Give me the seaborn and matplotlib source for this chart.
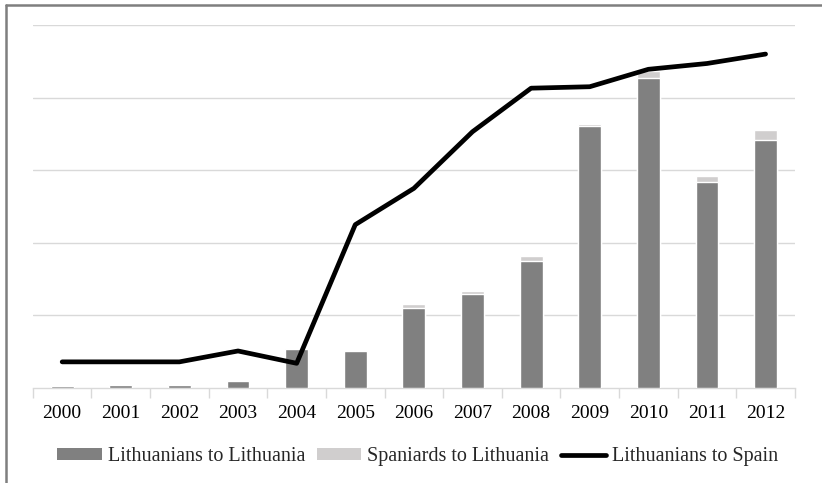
import matplotlib
matplotlib.use('Agg')
import matplotlib.pyplot as plt
from matplotlib.lines import Line2D
from matplotlib.patches import Patch
import seaborn as sns
import pandas as pd
import numpy as np

# Data (arbitrary units, gridline step = 1)
years = ['2000', '2001', '2002', '2003', '2004', '2005', '2006',
         '2007', '2008', '2009', '2010', '2011', '2012']
lt_to_lt = [0.03, 0.045, 0.045, 0.10, 0.54, 0.51, 1.10, 1.29, 1.75, 3.61, 4.27, 2.84, 3.42]
es_to_lt = [0.00, 0.00, 0.00, 0.00, 0.00, 0.00, 0.06, 0.05, 0.07, 0.02, 0.09, 0.08, 0.13]
lt_to_es = [0.36, 0.36, 0.36, 0.51, 0.34, 2.25, 2.75, 3.53, 4.13, 4.15, 4.39, 4.47, 4.60]

df = pd.DataFrame({'year': years, 'lt_lt': lt_to_lt, 'es_lt': es_to_lt, 'lt_es': lt_to_es})
df['total'] = df['lt_lt'] + df['es_lt']

sns.set_theme(style='white')
plt.rcParams['font.family'] = ['Liberation Serif', 'DejaVu Serif']

dark = '#808080'
light = '#d0cece'
grid_c = '#d9d9d9'

fig = plt.figure(figsize=(8.22, 4.83), dpi=100)
ax = fig.add_axes([0.040, 0.1967, 0.927, 0.7515])

# stacked bars: draw total first (light), then dark on top
sns.barplot(data=df, x='year', y='total', color=light, width=0.39,
            saturation=1, ax=ax, zorder=2)
sns.barplot(data=df, x='year', y='lt_lt', color=dark, width=0.39,
            saturation=1, ax=ax, zorder=3)
sns.lineplot(x=np.arange(len(years)), y=df['lt_es'], color='black',
             linewidth=3.4, ax=ax, zorder=4)

ax.set_xlim(-0.5, len(years) - 0.5)
ax.set_ylim(0, 5)
ax.set_yticks([1, 2, 3, 4, 5])
ax.yaxis.grid(True, color=grid_c, linewidth=1.0, zorder=0)
ax.set_axisbelow(True)
ax.tick_params(axis='y', left=False, labelleft=False)
ax.set_xlabel('')
ax.set_ylabel('')
for s in ['top', 'right', 'left']:
    ax.spines[s].set_visible(False)
ax.spines['bottom'].set_color(grid_c)
ax.spines['bottom'].set_linewidth(1.0)

ax.set_xticks(np.arange(len(years)))
ax.set_xticklabels(years, fontsize=14)
ax.set_xticks(np.arange(-0.5, len(years)), minor=True)
ax.tick_params(axis='x', which='major', length=0, pad=12, colors='black')
ax.tick_params(axis='x', which='minor', length=7, width=1.0, color=grid_c, bottom=True)

handles = [Patch(facecolor=dark, edgecolor='none'),
           Patch(facecolor=light, edgecolor='none'),
           Line2D([0], [0], color='black', linewidth=3.4)]
labels = ['Lithuanians to Lithuania', 'Spaniards to Lithuania', 'Lithuanians to Spain']
fig.legend(handles, labels, loc='center', bbox_to_anchor=(0.508, 0.054), ncol=3,
           frameon=False, fontsize=14.5, handlelength=2.2, handleheight=0.55,
           columnspacing=0.6, handletextpad=0.3)

# outer frame (top and left edges visible)
fig.add_artist(Line2D([6 / 822, 1.0], [1 - 5 / 483, 1 - 5 / 483],
                      transform=fig.transFigure, color='#7f7f7f', linewidth=1.8))
fig.add_artist(Line2D([6 / 822, 6 / 822], [0.0, 1 - 5 / 483],
                      transform=fig.transFigure, color='#7f7f7f', linewidth=1.8))

plt.savefig('out.png', dpi=100)
plt.close()
